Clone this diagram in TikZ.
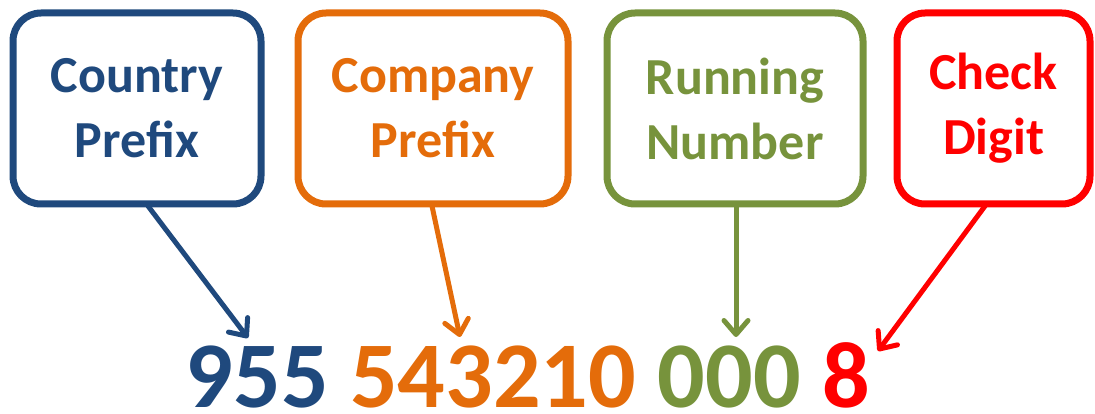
\documentclass[tikz,border=0pt]{standalone}
\usepackage{fontspec}
\setmainfont{Carlito}
\usetikzlibrary{arrows.meta}
\definecolor{cblue}{HTML}{1F497D}
\definecolor{corange}{HTML}{E46C0A}
\definecolor{cgreen}{HTML}{77933C}
\definecolor{cred}{HTML}{FF0000}
\tikzset{
  box/.style={draw=#1, text=#1, line width=7pt, rounded corners=28pt,
    minimum height=191pt, inner sep=0pt, align=center,
    font=\fontsize{52}{65}\selectfont\bfseries},
  pointer/.style={draw=#1, line width=5pt, line cap=round,
    -{Straight Barb[length=14pt,width=24pt,line cap=round,line join=round]}},
  num/.style={text=#1, inner sep=0pt, anchor=base west,
    font=\fontsize{94}{100}\selectfont\bfseries}
}
\begin{document}
\begin{tikzpicture}[x=1pt,y=-1pt]
\useasboundingbox (0,0) rectangle (1095,414);
\node[box=cblue, minimum width=248pt] (country) at (137,108.5) {Country\\Prefix};
\node[box=corange, minimum width=270pt] (company) at (433,108.5) {Company\\Prefix};
\node[box=cgreen, minimum width=256pt] (running) at (735,108.5) {Running\\Number};
\node[box=cred, minimum width=193pt] (check) at (993.5,108.5) {Check\\Digit};
% number
\node[num=cblue] (n1) at (185.5,407.5) {955};
\node[num=corange] (n2) at ([xshift=21.2pt]n1.base east) {543210};
\node[num=cgreen] (n3) at ([xshift=21.2pt]n2.base east) {000};
\node[num=cred] (n4) at ([xshift=21.2pt]n3.base east) {8};
% arrow ends
\coordinate (s1) at (148,206);
\coordinate (t1) at (248,338);
\coordinate (s2) at (432,206);
\coordinate (t2) at (460,337);
\coordinate (s3) at (736,206);
\coordinate (t3) at (736,337);
\coordinate (s4) at (985,206);
\coordinate (t4) at (878,351);
\draw[pointer=cblue] (s1) -- (t1);
\draw[pointer=corange] (s2) -- (t2);
\draw[pointer=cgreen] (s3) -- (t3);
\draw[pointer=cred] (s4) -- (t4);
\end{tikzpicture}
\end{document}
